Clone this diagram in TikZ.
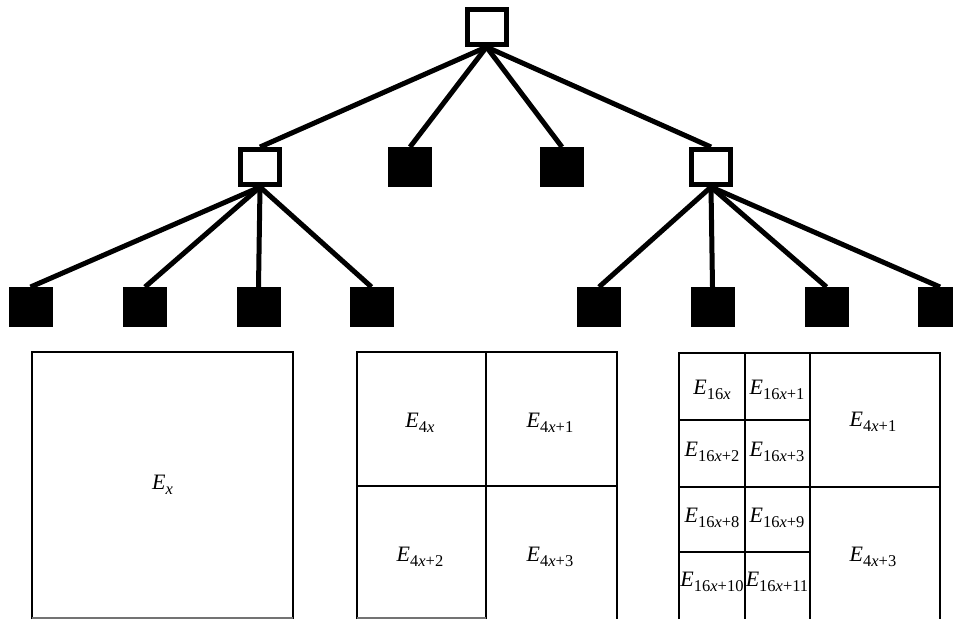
\documentclass[tikz,border=0pt]{standalone}
\usepackage{fontspec}
\setmainfont{Liberation Serif}
\newcommand\Elab[1]{\textit{E}\raisebox{-0.5ex}{\fontsize{16.5}{16.5}\selectfont #1}}
\begin{document}
\begin{tikzpicture}[x=1pt,y=-1pt,
  openbox/.style={draw=black,line width=5pt,fill=white,minimum width=39pt,minimum height=35pt,inner sep=0pt},
  leafbox/.style={draw=black,fill=black,line width=1pt,minimum width=43pt,minimum height=39pt,inner sep=0pt},
  edge/.style={line width=5pt},
  grid/.style={line width=1.5pt},
  faint/.style={line width=1.2pt,draw=black!55},
  lab/.style={font=\fontsize{22}{22}\selectfont,inner sep=0pt}]
\useasboundingbox (0,0) rectangle (953,619);

% tree
\node[openbox] (root) at (486.5,27) {};
\node[openbox] (nl) at (260,167) {};
\node[leafbox] (m1) at (410,167) {};
\node[leafbox] (m2) at (562,167) {};
\node[openbox] (nr) at (711,167) {};
\foreach \n/\x in {a/30.5,b/145,c/258.5,d/371.5,e/599,f/712.5,g/826.5,h/940}
  \node[leafbox] (\n) at (\x,307) {};

\foreach \c in {nl,m1,m2,nr}
  \draw[edge] (root.south) -- (\c.north);
\foreach \c in {a,b,c,d}
  \draw[edge] (nl.south) -- (\c.north);
\foreach \c in {e,f,g,h}
  \draw[edge] (nr.south) -- (\c.north);
% redraw the open boxes over the line ends
\node[openbox] at (root) {};
\node[openbox] at (nl) {};
\node[openbox] at (nr) {};

% level 0 square
\draw[grid] (32,619) -- (32,352) -- (293,352) -- (293,619);
\draw[faint] (32,618) -- (293,618);
\node[lab] (ex) at (162.5,485) {\Elab{\textit{x}}};

% level 1 square
\draw[grid] (357,619) -- (357,352) -- (617,352) -- (617,619);
\draw[grid] (486,352) -- (486,619);
\draw[grid] (357,486) -- (617,486);
\draw[faint] (357,618) -- (486,618);
\node[lab] (q0) at (420,423) {\Elab{4\textit{x}}};
\node[lab] (q1) at (550,423) {\Elab{4\textit{x}+1}};
\node[lab] (q2) at (420,557) {\Elab{4\textit{x}+2}};
\node[lab] (q3) at (550,557) {\Elab{4\textit{x}+3}};

% level 2 square
\draw[grid] (679,619) -- (679,353) -- (940,353) -- (940,619);
\draw[grid] (745,353) -- (745,619);
\draw[grid] (810,353) -- (810,619);
\draw[grid] (679,487) -- (940,487);
\draw[grid] (679,420) -- (810,420);
\draw[grid] (679,552) -- (810,552);
\node[lab] (s0) at (712,390) {\Elab{16\textit{x}}};
\node[lab] (s1) at (777,390) {\Elab{16\textit{x}+1}};
\node[lab] (s2) at (712,452) {\Elab{16\textit{x}+2}};
\node[lab] (s3) at (777,452) {\Elab{16\textit{x}+3}};
\node[lab] (s8) at (712,518) {\Elab{16\textit{x}+8}};
\node[lab] (s9) at (777,518) {\Elab{16\textit{x}+9}};
\node[lab] (s10) at (712,582) {\Elab{16\textit{x}+10}};
\node[lab] (s11) at (777,582) {\Elab{16\textit{x}+11}};
\node[lab] (r1) at (873,422) {\Elab{4\textit{x}+1}};
\node[lab] (r3) at (873,557) {\Elab{4\textit{x}+3}};
\end{tikzpicture}
\end{document}
